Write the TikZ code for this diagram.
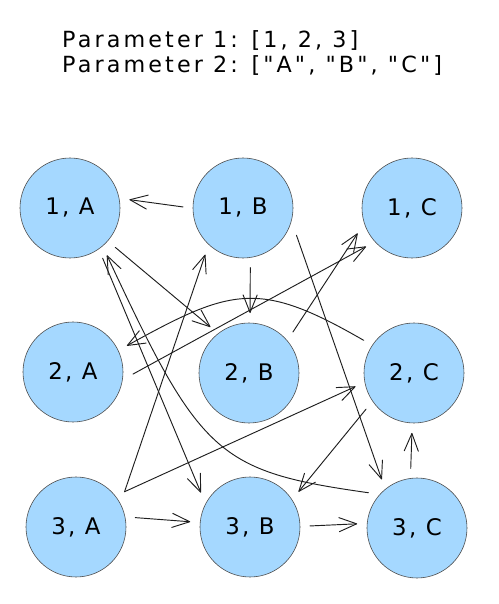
\documentclass[tikz,border=0pt]{standalone}
\usepackage{fontspec}
\newfontfamily\sketchfont{DejaVu Sans}[LetterSpace=14,Ligatures=TeXOff]
\newfontfamily\labelfont{DejaVu Sans}[LetterSpace=10,Ligatures=TeXOff]
\usetikzlibrary{arrows.meta}
\definecolor{myblue}{RGB}{165,216,255}
\definecolor{myink}{RGB}{30,30,30}
\tikzstyle{combo} = [circle, draw=myink!80, line width=0.5pt,
    fill=myblue, minimum size=3cm, inner sep=0, outer sep=0.3cm,
    font=\labelfont\fontsize{19.5}{22}\selectfont]
\tikzstyle{link} = [draw=myink, line width=0.8pt, line cap=round, line join=round,
    -{Straight Barb[length=15pt,width=12pt,round]}]
\tikzstyle{param} = [anchor=base west, inner sep=0,
    font=\sketchfont\fontsize{19}{22}\selectfont]
\begin{document}
\begin{tikzpicture}
\useasboundingbox (0,0) rectangle (14.94,18.12);

% 1. Place the parameters
\node[param] (p1) at (1.86,16.68) {Parameter 1: [1, 2, 3]};
\node[param] (p2) at (1.86,15.93) {Parameter 2: ["A", "B", "C"]};

%%% ROW 1
\node[combo] (a1) at (2.10,11.88) {1, A};
\node[combo] (b1) at (7.29,11.88) {1, B};
\node[combo] (c1) at (12.36,11.88) {1, C};

%%% ROW 2
\node[combo] (a2) at (2.19,6.96) {2, A};
\node[combo] (b2) at (7.47,6.93) {2, B};
\node[combo] (c2) at (12.42,6.93) {2, C};

%%% ROW 3
\node[combo] (a3) at (2.28,2.31) {3, A};
\node[combo] (b3) at (7.50,2.31) {3, B};
\node[combo] (c3) at (12.51,2.28) {3, C};

% 2. Connect the combinations
\draw[link] (b1.179) -- (a1.8);
\draw[link] (a1.-41) -- (b2.130);
\draw[link] (b1.-83) -- (b2.89);
\draw[link] (c2.147) to[out=150,in=29,looseness=1.3] (a2.26);
\draw[link] (a2.-2) -- (c1.220);
\draw[link] (b2.43) -- (c1.205);
\draw[link] (b1.-27) -- (c3.126);
\draw[link] (c3.144) .. controls +(172:4.6) and +(-65:6.6) .. (a1.-52);
\draw[link] (a1.-57) -- (b3.145);
\draw[link] (a3.36) -- (b1.231);
\draw[link] (a3.36) -- (c2.193);
\draw[link] (c2.217) -- (b3.36);
\draw[link] (a3.9) -- (b3.175);
\draw[link] (b3.1) -- (c3.176);
\draw[link] (c3.96) -- (c2.268);

\end{tikzpicture}
\end{document}
